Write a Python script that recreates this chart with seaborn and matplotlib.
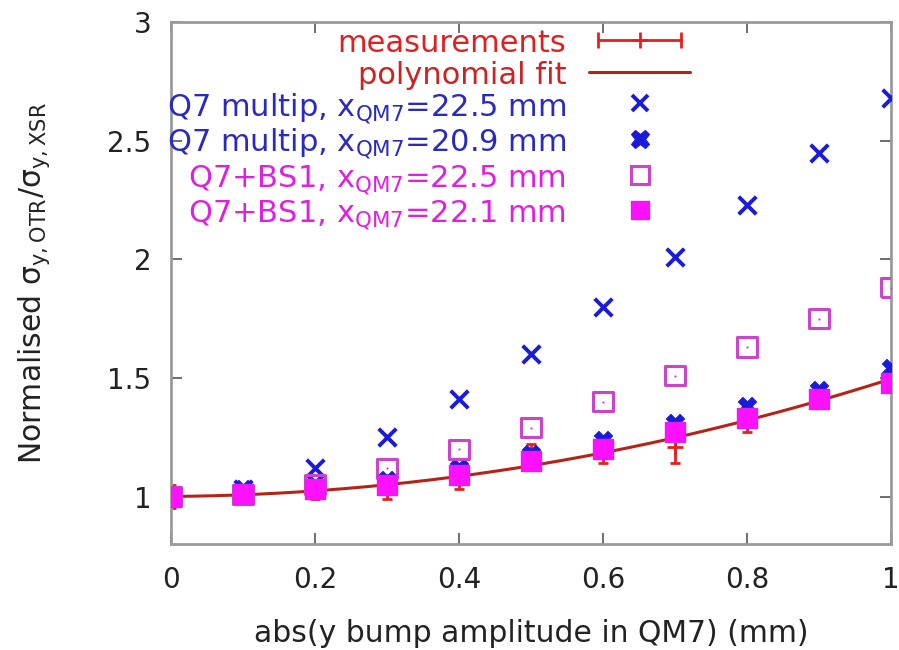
import numpy as np
import pandas as pd
import matplotlib
matplotlib.use("Agg")
import matplotlib.pyplot as plt
import seaborn as sns
from matplotlib.lines import Line2D
from matplotlib.legend_handler import HandlerLine2D, HandlerTuple

# ---------------- data ----------------
x_amp = [0.0, 0.1, 0.2, 0.3, 0.4, 0.5, 0.6, 0.7, 0.8, 0.9, 1.0]
meas_val = [1.00, 1.01, 1.02, 1.04, 1.08, 1.17, 1.19, 1.21, 1.32, 1.41, 1.50]
meas_err = [0.05, 0.02, 0.03, 0.05, 0.05, 0.05, 0.05, 0.07, 0.05, 0.03, 0.03]
q7_225 = [1.00, 1.03, 1.12, 1.25, 1.41, 1.60, 1.80, 2.01, 2.23, 2.45, 2.68]
q7_209 = [1.00, 1.03, 1.05, 1.07, 1.12, 1.18, 1.24, 1.31, 1.38, 1.45, 1.54]
bs1_225 = [1.00, 1.01, 1.05, 1.12, 1.20, 1.29, 1.40, 1.51, 1.63, 1.75, 1.88]
bs1_221 = [1.00, 1.01, 1.03, 1.05, 1.09, 1.15, 1.20, 1.27, 1.33, 1.41, 1.48]
fit_degree = 2

labels = [
    "measurements",
    "polynomial fit",
    r"Q7 multip, x$_{\mathregular{QM7}}$=22.5 mm",
    r"Q7 multip, x$_{\mathregular{QM7}}$=20.9 mm",
    r"Q7+BS1, x$_{\mathregular{QM7}}$=22.5 mm",
    r"Q7+BS1, x$_{\mathregular{QM7}}$=22.1 mm",
]
x_ticks = [0, 0.2, 0.4, 0.6, 0.8, 1.0]
x_ticklabels = ["0", "0.2", "0.4", "0.6", "0.8", "1"]
y_ticks = [1.0, 1.5, 2.0, 2.5, 3.0]
y_ticklabels = ["1", "1.5", "2", "2.5", "3"]

# ---------------- styling ----------------
sns.set_style("white")
plt.rcParams["font.family"] = ["DejaVu Sans"]
plt.rcParams["mathtext.fontset"] = "dejavusans"

RED = "#e8201c"
FIT = "#b52318"
BLUE = "#1a1ad8"
BLUE_TXT = "#2a2ac0"
VIOLET = "#cc44cc"
MAGENTA = "#ff10ff"
MAG_TXT = "#e020e0"

fig = plt.figure(figsize=(8.99, 6.5), dpi=100)
ax = fig.add_axes([171 / 899, 106 / 650, 720 / 899, 522 / 650])

df = pd.DataFrame({"x": x_amp, "meas": meas_val, "err": meas_err,
                   "q7a": q7_225, "q7b": q7_209, "bsa": bs1_225, "bsb": bs1_221})

# polynomial fit of the measurements
coef = np.polyfit(df["x"], df["meas"], fit_degree)
xf = np.linspace(0, 1, 200)
fit_df = pd.DataFrame({"x": xf, "y": np.polyval(coef, xf)})

ax.errorbar(df["x"], df["meas"], yerr=df["err"], fmt="+", color=RED,
            ms=12, mew=2, elinewidth=2, capsize=3.5, capthick=2, zorder=2)
sns.lineplot(data=fit_df, x="x", y="y", ax=ax, color=FIT, lw=2.2, zorder=3,
             legend=False)
sns.scatterplot(data=df, x="x", y="q7a", ax=ax, marker="x", color=BLUE,
                s=160, linewidth=2.8, zorder=4, legend=False)
sns.scatterplot(data=df, x="x", y="q7b", ax=ax, marker="X", color=BLUE,
                edgecolor=BLUE, s=170, linewidth=0.8, zorder=5, legend=False)
sns.scatterplot(data=df, x="x", y="bsa", ax=ax, marker="s", facecolor="none",
                edgecolor=VIOLET, s=190, linewidth=2.2, zorder=6, legend=False)
sns.scatterplot(data=df, x="x", y="bsa", ax=ax, marker=".", color=VIOLET,
                s=10, linewidth=0, zorder=6, legend=False)
sns.scatterplot(data=df, x="x", y="bsb", ax=ax, marker="s", color=MAGENTA,
                edgecolor="#dd22ee", s=190, linewidth=1, zorder=7, legend=False)

ax.set_xlim(0, 1)
ax.set_ylim(0.8, 3.0)
ax.set_xticks(x_ticks)
ax.set_xticklabels(x_ticklabels)
ax.set_yticks(y_ticks)
ax.set_yticklabels(y_ticklabels)
ax.tick_params(axis="both", which="both", direction="in", length=8, width=1.2,
               color="#555555", labelsize=20, labelcolor="#222222", pad=14,
               top=True, right=True, bottom=True, left=True)
ax.tick_params(axis="x", pad=16)
for s in ax.spines.values():
    s.set_color("#9a9a9a")
    s.set_linewidth(2)
    s.set_visible(True)

ax.set_xlabel("abs(y bump amplitude in QM7) (mm)", fontsize=21.5,
              color="#222222", labelpad=18)
ax.set_ylabel(r"Normalised σ$_{\mathregular{y,OTR}}$/σ$_{\mathregular{y,XSR}}$",
              fontsize=21.5, color="#222222")
ax.yaxis.set_label_coords(-0.165, 0.5)

# ---------------- legend (gnuplot style: text left, sample right) --------
caps = Line2D([], [], color=RED, lw=2, marker="|", ms=12, mew=2)
plus = Line2D([], [], color=RED, ls="none", marker="+", ms=12, mew=2)
h_fit = Line2D([], [], color=FIT, lw=2.2)
h_q7a = Line2D([], [], ls="none", marker="x", color=BLUE, ms=12, mew=2.8)
h_q7b = Line2D([], [], ls="none", marker="X", color=BLUE, ms=13, mew=0.8)
h_bsa = Line2D([], [], ls="none", marker="s", mfc="none", mec=VIOLET, ms=13, mew=2.2)
h_bsb = Line2D([], [], ls="none", marker="s", mfc=MAGENTA, mec="#dd22ee", ms=13)

leg = ax.legend([(caps, plus), h_fit, h_q7a, h_q7b, h_bsa, h_bsb], labels,
                handler_map={caps: HandlerLine2D(numpoints=2),
                             tuple: HandlerTuple(ndivide=1)},
                loc="upper right", bbox_to_anchor=(690 / 899, 1 - 27 / 650),
                bbox_transform=fig.transFigure, frameon=False,
                markerfirst=False, fontsize=22, handlelength=3.3,
                handleheight=1.1, handletextpad=0.75, labelspacing=0.03,
                borderpad=0, borderaxespad=0, numpoints=1)
colors = ["#e02020", "#cc2222", BLUE_TXT, BLUE_TXT, MAG_TXT, MAG_TXT]
for t, c in zip(leg.get_texts(), colors):
    t.set_color(c)
    t.set_ha("right")
leg.set_zorder(10)

fig.savefig("out.png", dpi=100)
